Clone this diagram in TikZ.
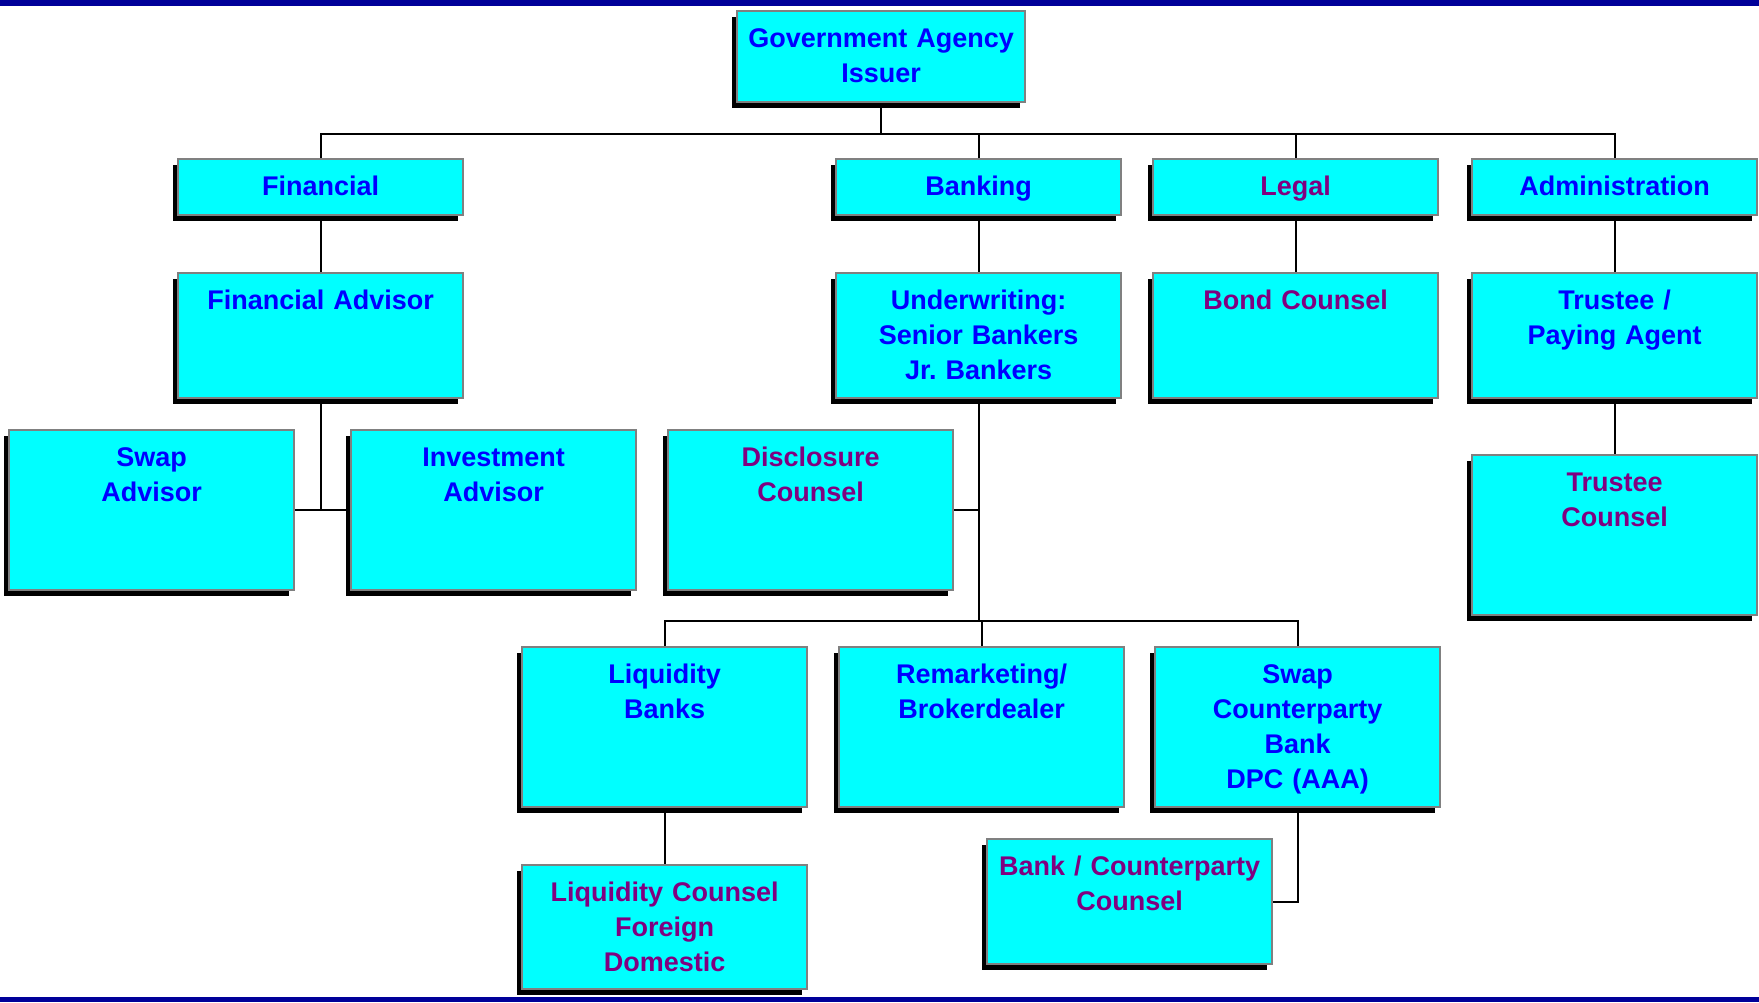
\documentclass[tikz,border=0pt]{standalone}
\usepackage{fontspec}
\setmainfont{Liberation Sans}
\usetikzlibrary{shadows}
\frenchspacing

\definecolor{orgcyan}{RGB}{0,255,255}
\definecolor{orgblue}{RGB}{0,0,255}
\definecolor{orgpurple}{RGB}{128,0,128}
\definecolor{barnavy}{RGB}{0,0,153}

\tikzset{
  box/.style={draw=gray, line width=1.2pt, fill=orgcyan, anchor=north west,
    inner xsep=0pt, inner ysep=0pt, text width=142.5pt, align=center,
    text height=18pt, text=orgblue,
    font=\bfseries\fontsize{13.5}{17.5}\selectfont,
    drop shadow={shadow xshift=-2.5pt, shadow yshift=-3pt, fill=black, opacity=1}},
  headbox/.style={box, text depth=10pt},
  midbox/.style={box, text depth=44.5pt},
  tallbox/.style={box, text depth=62pt},
  counsel/.style={text=orgpurple},
  link/.style={draw=black, line width=1pt}
}

\begin{document}
\begin{tikzpicture}[x=0.5pt, y=-0.5pt]
  \useasboundingbox (0,0) rectangle (1759,1002);
  \fill[barnavy] (0,0) rectangle (1759,6);
  \fill[barnavy] (0,997) rectangle (1759,1002);

  % issuer and the four groups
  \node[box, text width=144pt, text depth=27.5pt] (gov) at (736,10) {Government Agency\\Issuer};
  \node[headbox] (fin) at (177,158) {Financial};
  \node[headbox] (bank) at (835,158) {Banking};
  \node[headbox, counsel] (legal) at (1152,158) {Legal};
  \node[headbox] (adm) at (1471,158) {Administration};

  % second row
  \node[midbox] (fa) at (177,272) {Financial Advisor};
  \node[midbox] (uw) at (835,272) {Underwriting:\\Senior Bankers\\Jr. Bankers};
  \node[midbox, counsel] (bc) at (1152,272) {Bond Counsel};
  \node[midbox] (tpa) at (1471,272) {Trustee /\\Paying Agent};

  % third row
  \node[tallbox] (swapadv) at (8,429) {Swap\\Advisor};
  \node[tallbox] (invadv) at (350,429) {Investment\\Advisor};
  \node[tallbox, counsel] (disc) at (667,429) {Disclosure\\Counsel};
  \node[tallbox, counsel] (tc) at (1471,454) {Trustee\\Counsel};

  % banking branch
  \node[tallbox] (liqb) at (521,646) {Liquidity\\Banks};
  \node[tallbox] (remk) at (838,646) {Remarketing/\\Brokerdealer};
  \node[tallbox] (swapcp) at (1154,646) {Swap\\Counterparty\\Bank\\DPC (AAA)};
  \node[midbox, counsel] (bcc) at (986,838) {Bank / Counterparty\\Counsel};
  \node[midbox, counsel, text depth=44pt] (liqc) at (521,864) {Liquidity Counsel\\Foreign\\Domestic};

  % connectors
  \draw[link] (gov.south) -- ++(0,31) coordinate (bus);
  \draw[link] (fin.north) |- (bus) -| (adm.north);
  \draw[link] (bank.north) -- (bank.north |- bus);
  \draw[link] (legal.north) -- (legal.north |- bus);
  \draw[link] (fin) -- (fa);
  \draw[link] (fa.south) -- (fa.south |- swapadv.east);
  \draw[link] (swapadv.east) -- (invadv.west);
  \draw[link] (bank) -- (uw);
  \draw[link] (legal) -- (bc);
  \draw[link] (adm) -- (tpa);
  \draw[link] (tpa) -- (tc);
  \draw[link] (uw.south) -- ++(0,222) coordinate (bus2);
  \draw[link] (disc.east) -- (disc.east -| uw.south);
  \draw[link] (liqb.north) |- (bus2) -| (swapcp.north);
  \draw[link] (remk.north) -- (remk.north |- bus2);
  \draw[link] (liqb) -- (liqc);
  \draw[link] (swapcp.south) |- (bcc.east);
\end{tikzpicture}
\end{document}
